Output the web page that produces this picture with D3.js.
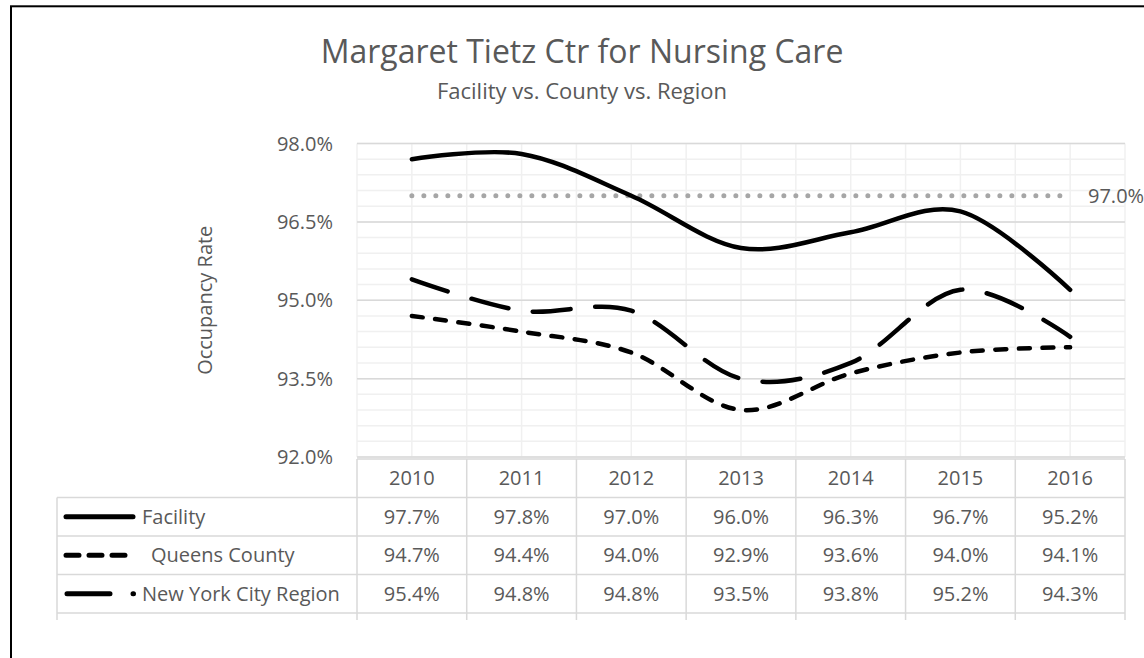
<!DOCTYPE html>
<html>
<head>
<meta charset="utf-8">
<script src="https://cdn.jsdelivr.net/npm/d3@7"></script>
<style>
	body { margin: 0; background: #fff; }
	text { font-family: "Open Sans", sans-serif; fill: #595959; }
</style>
</head>
<body>
<div id="viz"></div>
<script>
var years = [2010, 2011, 2012, 2013, 2014, 2015, 2016];
var seriesNames = ["Facility", "Queens County", "New York City Region"];
var facility = [97.7, 97.8, 97.0, 96.0, 96.3, 96.7, 95.2];
var queensCounty = [94.7, 94.4, 94.0, 92.9, 93.6, 94.0, 94.1];
var nycRegion = [95.4, 94.8, 94.8, 93.5, 93.8, 95.2, 94.3];
var targetRate = 97.0;
var yTicks = [92.0, 93.5, 95.0, 96.5, 98.0];

buildViz();

function buildViz(){

	var width = 1144,
			height = 658,
			plotLeft = 357,
			plotRight = 1125,
			plotTop = 143.5,
			plotBottom = 457,
			rowH = 38.5,
			headTop = 459;

	var series = [
		{ name: seriesNames[0], values: facility, dash: null, legendDash: null },
		{ name: seriesNames[1], values: queensCounty, dash: '11 12.5', legendDash: '13 10' },
		{ name: seriesNames[2], values: nycRegion, dash: '38 24.7', legendDash: '43 23 0.5 100' }
	];

	var svg = d3.select('#viz')
		.append('svg')
		.attr('width', width)
		.attr('height', height);

	var x = d3.scaleBand()
		.domain(years)
		.range([plotLeft, plotRight]);
	var bw = x.bandwidth();
	var cx = function(d){ return x(d) + bw/2; };

	var y = d3.scaleLinear()
		.domain([92, 98])
		.range([plotBottom, plotTop]);

	// outer chart border
	svg.append('rect')
		.attr('x', 11).attr('y', 6.3)
		.attr('width', 1200).attr('height', 700)
		.style('fill', 'none')
		.style('stroke', '#000')
		.style('stroke-width', 2);

	// titles
	svg.append('text')
		.attr('x', 582).attr('y', 63)
		.attr('text-anchor', 'middle')
		.style('font-size', '32px')
		.text('Margaret Tietz Ctr for Nursing Care');
	svg.append('text')
		.attr('x', 582).attr('y', 99)
		.attr('text-anchor', 'middle')
		.style('font-size', '22px')
		.text('Facility vs. County vs. Region');

	// grid: minor horizontal, vertical, major horizontal
	var grid = svg.append('g');
	var minor = d3.range(0, 21).map(function(i){ return 92 + i*0.3; });
	grid.selectAll('.minor-h')
		.data(minor)
		.enter().append('line')
			.attr('x1', plotLeft).attr('x2', plotRight)
			.attr('y1', function(d){ return y(d); })
			.attr('y2', function(d){ return y(d); })
			.style('stroke', '#f0f0f0').style('stroke-width', 1.5);

	var vLines = [];
	years.forEach(function(d){ vLines.push(x(d)); vLines.push(cx(d)); });
	vLines.push(plotRight);
	grid.selectAll('.grid-v')
		.data(vLines)
		.enter().append('line')
			.attr('x1', function(d){ return d; }).attr('x2', function(d){ return d; })
			.attr('y1', plotTop).attr('y2', plotBottom)
			.style('stroke', '#f0f0f0').style('stroke-width', 1.5);

	grid.selectAll('.major-h')
		.data(yTicks)
		.enter().append('line')
			.attr('x1', plotLeft).attr('x2', plotRight)
			.attr('y1', function(d){ return y(d); })
			.attr('y2', function(d){ return y(d); })
			.style('stroke', '#d9d9d9').style('stroke-width', 1.5);

	// axis Y labels
	svg.selectAll('.y-label')
		.data(yTicks)
		.enter().append('text')
			.attr('x', 333)
			.attr('y', function(d){ return y(d) + 7; })
			.attr('text-anchor', 'end')
			.style('font-size', '20px')
			.text(function(d){ return d.toFixed(1) + '%'; });

	svg.append('text')
		.attr('transform', 'translate(212,' + ((plotTop + plotBottom)/2) + ') rotate(-90)')
		.attr('text-anchor', 'middle')
		.style('font-size', '20px')
		.text('Occupancy Rate');

	// target dotted line
	svg.append('line')
		.attr('x1', cx(years[0])).attr('x2', cx(years[years.length-1]))
		.attr('y1', y(targetRate)).attr('y2', y(targetRate))
		.style('stroke', '#a6a6a6')
		.style('stroke-width', 5)
		.style('stroke-linecap', 'round')
		.style('stroke-dasharray', '0 12');
	svg.append('text')
		.attr('x', 1088).attr('y', y(targetRate) + 7)
		.style('font-size', '20px')
		.text(targetRate.toFixed(1) + '%');

	// series lines
	var line = d3.line()
		.x(function(d, i){ return cx(years[i]); })
		.y(function(d){ return y(d); })
		.curve(d3.curveCatmullRom.alpha(0));

	svg.selectAll('.series-line')
		.data(series)
		.enter().append('path')
			.attr('d', function(d){ return line(d.values); })
			.style('fill', 'none')
			.style('stroke', '#000')
			.style('stroke-width', 4.5)
			.style('stroke-linecap', 'round')
			.style('stroke-dasharray', function(d){ return d.dash; });

	// data table
	var table = svg.append('g');
	var tColor = '#d9d9d9';
	var rowsBottom = headTop + rowH*4;

	// horizontal lines
	table.append('line')
		.attr('x1', plotLeft).attr('x2', plotRight)
		.attr('y1', headTop).attr('y2', headTop)
		.style('stroke', tColor).style('stroke-width', 1.5);
	table.selectAll('.row-line')
		.data([1, 2, 3, 4])
		.enter().append('line')
			.attr('x1', 57).attr('x2', plotRight)
			.attr('y1', function(d){ return headTop + rowH*d; })
			.attr('y2', function(d){ return headTop + rowH*d; })
			.style('stroke', tColor).style('stroke-width', 1.5);

	// vertical lines
	var colLines = years.map(function(d){ return x(d); }).concat([plotRight]);
	table.selectAll('.col-line')
		.data(colLines)
		.enter().append('line')
			.attr('x1', function(d){ return d; }).attr('x2', function(d){ return d; })
			.attr('y1', headTop).attr('y2', rowsBottom + 7)
			.style('stroke', tColor).style('stroke-width', 1.5);
	table.append('line')
		.attr('x1', 57).attr('x2', 57)
		.attr('y1', headTop + rowH).attr('y2', rowsBottom + 7)
		.style('stroke', tColor).style('stroke-width', 1.5);

	// header years
	table.selectAll('.year-label')
		.data(years)
		.enter().append('text')
			.attr('x', cx)
			.attr('y', headTop + rowH/2 + 7)
			.attr('text-anchor', 'middle')
			.style('font-size', '20px')
			.text(function(d){ return d; });

	var rows = table.selectAll('.table-row')
		.data(series)
		.enter().append('g')
			.attr('transform', function(d, i){ return 'translate(0,' + (headTop + rowH*(i+1) + rowH/2) + ')'; });

	rows.append('line')
		.attr('x1', function(d, i){ return i == 2 ? 67 : 66; })
		.attr('x2', function(d, i){ return i == 1 ? 128 : (i == 2 ? 140 : 133); })
		.attr('y1', 0).attr('y2', 0)
		.style('stroke', '#000')
		.style('stroke-width', 5)
		.style('stroke-linecap', 'round')
		.style('stroke-dasharray', function(d){ return d.legendDash; });

	rows.append('text')
		.attr('x', function(d, i){ return i == 1 ? 151 : 142; })
		.attr('y', 7)
		.style('font-size', '20px')
		.text(function(d){ return d.name; });

	rows.selectAll('.value')
		.data(function(d){ return d.values; })
		.enter().append('text')
			.attr('x', function(d, i){ return cx(years[i]); })
			.attr('y', 7)
			.attr('text-anchor', 'middle')
			.style('font-size', '20px')
			.text(function(d){ return d.toFixed(1) + '%'; });
}
</script>
</body>
</html>
